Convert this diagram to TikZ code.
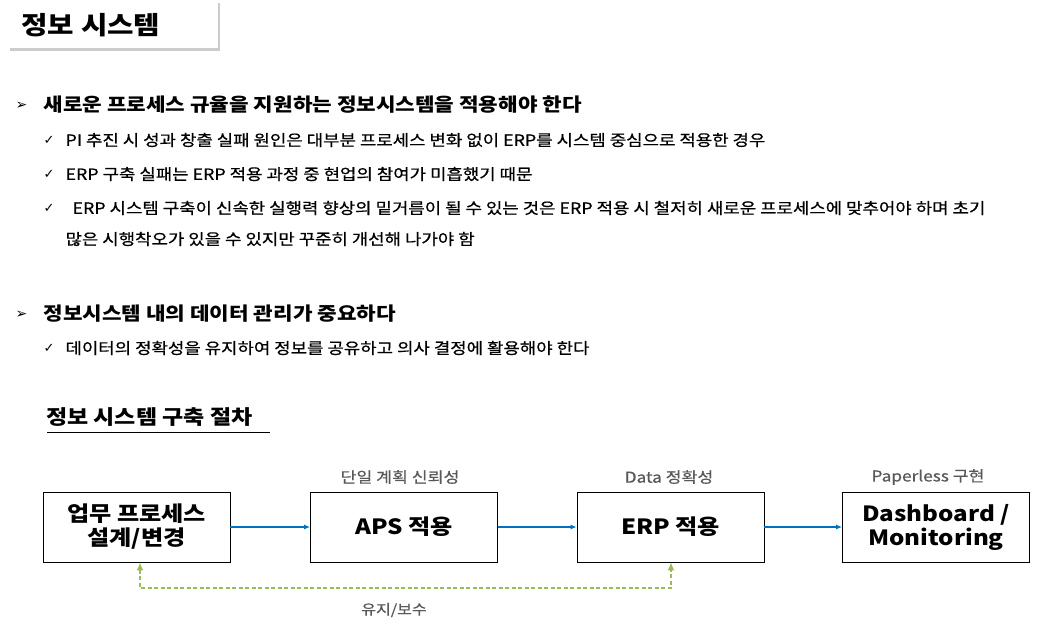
\documentclass[tikz,border=0pt]{standalone}
\usepackage{fontspec}
\setmainfont{Noto Sans CJK KR}[FakeStretch=1.15]
\newfontfamily\medf{Noto Sans CJK KR}[FakeStretch=1.15,FakeBold=0.6]
\newfontfamily\sym{DejaVu Sans}
\usetikzlibrary{shadows,arrows.meta}
\definecolor{lbl}{HTML}{595959}
\definecolor{arr}{HTML}{0070C0}
\definecolor{grn}{HTML}{9BBB59}
\tikzset{
 flow/.style={draw,line width=0.8pt,minimum width=187pt,minimum height=70pt,align=center,font=\fontsize{21}{24}\selectfont\bfseries,inner sep=0},
 lab/.style={text=lbl,font=\medf\fontsize{15}{17}\selectfont},
 b1/.style={anchor=west,font=\bfseries\fontsize{18.5}{20}\selectfont},
 b2/.style={anchor=west,font=\medf\fontsize{15.5}{17}\selectfont},
 chk/.style={anchor=west,font=\sym\fontsize{13}{16}\selectfont},
 conn/.style={-{Latex[length=6pt,width=5pt]},arr,line width=1.2pt},
}
\begin{document}
\begin{tikzpicture}[x=1pt,y=-1pt]
\useasboundingbox (0,0) rectangle (1051,632);
\node[fill=white,drop shadow={shadow xshift=2pt,shadow yshift=-3pt,opacity=0.4},minimum width=210pt,minimum height=48pt,inner sep=0] (title) at (113,24) {};
\node[anchor=west,font=\fontsize{25}{28}\selectfont\bfseries] (tt) at (18,25) {정보 시스템};
\node[anchor=west,font=\sym\fontsize{14}{16}\selectfont] (a1) at (12,106) {➢};
\node[b1] (t1) at (40,105) {새로운 프로세스 규율을 지원하는 정보시스템을 적용해야 한다};
\node[chk] (c1) at (40,140) {✓};
\node[b2] (t2) at (62,140) {PI 추진 시 성과 창출 실패 원인은 대부분 프로세스 변화 없이 ERP를 시스템 중심으로 적용한 경우};
\node[chk] (c2) at (40,174) {✓};
\node[b2] (t3) at (62,174) {ERP 구축 실패는 ERP 적용 과정 중 현업의 참여가 미흡했기 때문};
\node[chk] (c3) at (40,208) {✓};
\node[b2] (t4) at (69,208) {ERP 시스템 구축이 신속한 실행력 향상의 밑거름이 될 수 있는 것은 ERP 적용 시 철저히 새로운 프로세스에 맞추어야 하며 초기};
\node[b2] (t5) at (62,239) {많은 시행착오가 있을 수 있지만 꾸준히 개선해 나가야 함};
\node[anchor=west,font=\sym\fontsize{14}{16}\selectfont] (a2) at (12,315) {➢};
\node[b1] (t6) at (40,314) {정보시스템 내의 데이터 관리가 중요하다};
\node[chk] (c4) at (40,348) {✓};
\node[b2] (t7) at (62,348) {데이터의 정확성을 유지하여 정보를 공유하고 의사 결정에 활용해야 한다};
\node[anchor=west,font=\fontsize{20}{22}\selectfont\bfseries,inner sep=0] (h) at (46,417) {정보 시스템 구축 절차};
\draw[line width=1pt] (47,432) -- (270,432);
\node[flow] (f1) at (136.5,527) {업무 프로세스\\설계/변경};
\node[flow] (f2) at (404,527) {APS 적용};
\node[flow] (f3) at (670.5,527) {ERP 적용};
\node[flow] (f4) at (936,527) {Dashboard /\\Monitoring};
\node[lab] (l2) at (400,477) {단일 계획 신뢰성};
\node[lab] (l3) at (669,477) {Data 정확성};
\node[lab] (l4) at (928,477) {Paperless 구현};
\draw[conn] (f1) -- (f2);
\draw[conn] (f2) -- (f3);
\draw[conn] (f3) -- (f4);
\coordinate (d1) at (140,588);
\coordinate (d2) at (671,588);
\draw[grn,line width=1.5pt,dash pattern=on 4pt off 2.5pt,{Latex[length=8pt,width=7pt]}-{Latex[length=8pt,width=7pt]}] (d1|-f1.south) -- (d1) -- (d2) -- (d2|-f3.south);
\node[lab,font=\medf\fontsize{14}{15}\selectfont] (l5) at (394,610) {유지/보수};
\end{tikzpicture}
\end{document}
